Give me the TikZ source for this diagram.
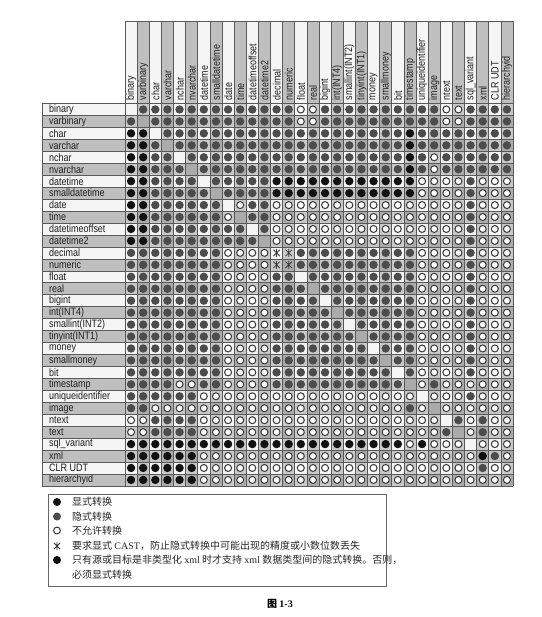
\documentclass[tikz,border=0pt]{standalone}
\usepackage{fontspec}
\newfontfamily\narrowfont[FakeStretch=0.84]{Liberation Sans}
\newfontfamily\cjk{Noto Sans CJK SC}
\newfontfamily\lserif{Liberation Serif}
\definecolor{bg0}{gray}{0.96}
\definecolor{bg1}{gray}{0.79}
\definecolor{bg2}{gray}{0.67}
\definecolor{hd0}{gray}{0.96}
\definecolor{hd1}{gray}{0.75}
\definecolor{explc}{gray}{0.07}
\definecolor{implc}{gray}{0.30}
\definecolor{xmlc}{gray}{0.05}
\definecolor{ringc}{gray}{0.22}
\definecolor{linec}{gray}{0.35}
\begin{document}
\begin{tikzpicture}[x=1pt,y=-1pt,
  gridline/.style={linec,line width=0.6pt},
  hdrtext/.style={font=\narrowfont\fontsize{10.7}{12}\selectfont,rotate=90,anchor=west,inner sep=0pt,text=black!88},
  lbltext/.style={font=\narrowfont\fontsize{10.7}{12}\selectfont,anchor=west,inner sep=0pt,text=black!88},
  legtext/.style={font=\cjk\fontsize{10}{12}\selectfont,anchor=west,inner sep=0pt,text=black!85},
  expl/.style={fill=explc},
  impl/.style={fill=implc},
  notal/.style={fill=white,draw=ringc,line width=1pt},
  astm/.style={draw=ringc,line width=0.8pt},
  legbox/.style={draw=black!60,line width=0.7pt}]
\useasboundingbox (0,0) rectangle (541,617);
\fill[white] (0,0) rectangle (541,617);
% header cells
\foreach \name [count=\ci] in {binary,varbinary,char,varchar,nchar,nvarchar,datetime,smalldatetime,date,time,datetimeoffset,datetime2,decimal,numeric,float,real,bigint,int(INT4),smallint(INT2),tinyint(INT1),money,smallmoney,bit,timestamp,uniqueidentifier,image,ntext,text,sql\_variant,xml,CLR UDT,hierarchyid}{
  \pgfmathsetmacro\xl{125+(\ci-1)*12.125}
  \pgfmathsetmacro\xr{\xl+12.125}
  \pgfmathtruncatemacro\ev{1-mod(\ci,2)}
  \fill[hd\ev] (\xl,21) rectangle (\xr,103.5);
  \node[hdrtext] (h\ci) at ({\xl+6.2},100.5) {\name};
}
% row labels
\foreach \name [count=\ri] in {binary,varbinary,char,varchar,nchar,nvarchar,datetime,smalldatetime,date,time,datetimeoffset,datetime2,decimal,numeric,float,real,bigint,int(INT4),smallint(INT2),tinyint(INT1),money,smallmoney,bit,timestamp,uniqueidentifier,image,ntext,text,sql\_variant,xml,CLR UDT,hierarchyid}{
  \pgfmathsetmacro\yt{103.5+(\ri-1)*11.95}
  \pgfmathsetmacro\yb{\yt+11.95}
  \pgfmathtruncatemacro\ev{1-mod(\ri,2)}
  \fill[hd\ev] (42,\yt) rectangle (125,\yb);
  \node[lbltext] (l\ri) at (49,{\yt+6}) {\name};
}
% matrix
\foreach \lst [count=\ri] in {
 {D,I,I,I, I,I,I,I, I,I,I,I, I,I,N,N, I,I,I,I, I,I,I,I, I,I,N,N, I,I,I,I},
 {I,D,I,I, I,I,I,I, I,I,I,I, I,I,N,N, I,I,I,I, I,I,I,I, I,I,N,N, I,I,I,I},
 {E,E,D,I, I,I,I,I, I,I,I,I, I,I,I,I, I,I,I,I, I,I,I,E, I,I,I,I, I,I,I,I},
 {E,E,I,D, I,I,I,I, I,I,I,I, I,I,I,I, I,I,I,I, I,I,I,E, I,I,I,I, I,I,I,I},
 {E,E,I,I, D,I,I,I, I,I,I,I, I,I,I,I, I,I,I,I, I,I,I,E, I,N,I,I, I,I,I,I},
 {E,E,I,I, I,D,I,I, I,I,I,I, I,I,I,I, I,I,I,I, I,I,I,E, I,N,I,I, I,I,I,I},
 {E,E,I,I, I,I,D,I, I,I,I,I, E,E,E,E, E,E,E,E, E,E,E,E, N,N,N,N, I,N,N,N},
 {E,E,I,I, I,I,I,D, I,I,I,I, E,E,E,E, E,E,E,E, E,E,E,E, N,N,N,N, I,N,N,N},
 {E,E,I,I, I,I,I,I, D,N,I,I, N,N,N,N, N,N,N,N, N,N,N,N, N,N,N,N, I,N,N,N},
 {E,E,I,I, I,I,I,I, N,D,I,I, N,N,N,N, N,N,N,N, N,N,N,N, N,N,N,N, I,N,N,N},
 {E,E,I,I, I,I,I,I, I,I,D,I, N,N,N,N, N,N,N,N, N,N,N,N, N,N,N,N, I,N,N,N},
 {E,E,I,I, I,I,I,I, I,I,I,D, N,N,N,N, N,N,N,N, N,N,N,N, N,N,N,N, I,N,N,N},
 {I,I,I,I, I,I,I,I, N,N,N,N, A,A,I,I, I,I,I,I, I,I,I,I, N,N,N,N, I,N,N,N},
 {I,I,I,I, I,I,I,I, N,N,N,N, A,A,I,I, I,I,I,I, I,I,I,I, N,N,N,N, I,N,N,N},
 {I,I,I,I, I,I,I,I, N,N,N,N, I,I,D,I, I,I,I,I, I,I,I,I, N,N,N,N, I,N,N,N},
 {I,I,I,I, I,I,I,I, N,N,N,N, I,I,I,D, I,I,I,I, I,I,I,I, N,N,N,N, I,N,N,N},
 {I,I,I,I, I,I,I,I, N,N,N,N, I,I,I,I, D,I,I,I, I,I,I,I, N,N,N,N, I,N,N,N},
 {I,I,I,I, I,I,I,I, N,N,N,N, I,I,I,I, I,D,I,I, I,I,I,I, N,N,N,N, I,N,N,N},
 {I,I,I,I, I,I,I,I, N,N,N,N, I,I,I,I, I,I,D,I, I,I,I,I, N,N,N,N, I,N,N,N},
 {I,I,I,I, I,I,I,I, N,N,N,N, I,I,I,I, I,I,I,D, I,I,I,I, N,N,N,N, I,N,N,N},
 {I,I,I,I, I,I,I,I, N,N,N,N, I,I,I,I, I,I,I,I, D,I,I,I, N,N,N,N, I,N,N,N},
 {I,I,I,I, I,I,I,I, N,N,N,N, I,I,I,I, I,I,I,I, I,D,I,I, N,N,N,N, I,N,N,N},
 {I,I,I,I, I,I,I,I, N,N,N,N, I,I,I,I, I,I,I,I, I,I,D,I, N,N,N,N, I,N,N,N},
 {I,I,I,I, N,N,I,I, N,N,N,N, I,I,I,I, I,I,I,I, I,I,I,D, N,I,N,N, N,N,N,N},
 {I,I,I,I, I,I,N,N, N,N,N,N, N,N,N,N, N,N,N,N, N,N,N,N, D,N,N,N, I,N,N,N},
 {I,I,N,N, N,N,N,N, N,N,N,N, N,N,N,N, N,N,N,N, N,N,N,I, N,D,N,N, N,N,N,N},
 {N,N,I,I, I,I,N,N, N,N,N,N, N,N,N,N, N,N,N,N, N,N,N,N, N,N,D,I, N,I,N,N},
 {N,N,I,I, I,I,N,N, N,N,N,N, N,N,N,N, N,N,N,N, N,N,N,N, N,N,I,D, N,I,N,N},
 {E,E,E,E, E,E,E,E, E,E,E,E, E,E,E,E, E,E,E,E, E,E,E,N, E,N,N,N, D,N,N,N},
 {E,E,E,E, E,E,N,N, N,N,N,N, N,N,N,N, N,N,N,N, N,N,N,N, N,N,N,N, N,X,I,N},
 {E,E,E,E, E,E,N,N, N,N,N,N, N,N,N,N, N,N,N,N, N,N,N,N, N,N,N,N, N,I,N,N},
 {E,E,E,E, E,E,N,N, N,N,N,N, N,N,N,N, N,N,N,N, N,N,N,N, N,N,N,N, N,N,N,N}}{
  \foreach \s [count=\ci] in \lst {
    \pgfmathsetmacro\xc{125+(\ci-0.5)*12.125}
    \pgfmathsetmacro\yc{103.5+(\ri-0.5)*11.95}
    \pgfmathtruncatemacro\sh{(1-mod(\ri,2))+(1-mod(\ci,2))}
    \fill[bg\sh] ({\xc-6.0625},{\yc-5.975}) rectangle ({\xc+6.0625},{\yc+5.975});
    \if E\s \fill[expl] (\xc,\yc) circle (4.2pt);\fi
    \if I\s \fill[impl] (\xc,\yc) circle (4.2pt);\fi
    \if X\s \fill[fill=xmlc] (\xc,\yc) circle (4.3pt);\fi
    \if N\s \filldraw[notal] (\xc,\yc) circle (3.5pt);\fi
    \if A\s \draw[astm] ({\xc-3.2},{\yc-3.2}) -- ({\xc+3.2},{\yc+3.2})
        ({\xc-3.2},{\yc+3.2}) -- ({\xc+3.2},{\yc-3.2})
        (\xc,{\yc-4}) -- (\xc,{\yc+4});\fi
  }
}
% grid lines
\foreach \ci in {0,...,32}{
  \draw[gridline] ({125+\ci*12.125},21) -- ({125+\ci*12.125},485.9);
}
\foreach \ri in {0,...,32}{
  \draw[gridline] (42,{103.5+\ri*11.95}) -- (513,{103.5+\ri*11.95});
}
\draw[gridline] (125,21) -- (513,21);
\draw[gridline] (42,103.5) -- (42,485.9);
% legend
\draw[legbox] (48,494) rectangle (386,586);
\fill[expl] (57,502) circle (4pt);
\node[legtext] (lg1) at (72,502) {显式转换};
\fill[impl] (57,516.5) circle (4pt);
\node[legtext] (lg2) at (72,516.5) {隐式转换};
\filldraw[notal] (57,530.5) circle (3.4pt);
\node[legtext] (lg3) at (72,530.5) {不允许转换};
\draw[astm] (53.8,542.8) -- (60.2,549.2) (53.8,549.2) -- (60.2,542.8) (57,542) -- (57,550);
\node[legtext] (lg4) at (72,546) {要求显式 {\lserif CAST}，防止隐式转换中可能出现的精度或小数位数丢失};
\fill[fill=xmlc] (57,560) circle (4pt);
\node[legtext] (lg5) at (72,560) {只有源或目标是非类型化 {\lserif xml} 时才支持 {\lserif xml} 数据类型间的隐式转换。否则，};
\node[legtext] (lg6) at (72,575) {必须显式转换};
\node[font=\cjk\bfseries\fontsize{10}{12}\selectfont,inner sep=0pt] (cap) at (280,604) {图 {\lserif\bfseries 1-3}};
\end{tikzpicture}
\end{document}
